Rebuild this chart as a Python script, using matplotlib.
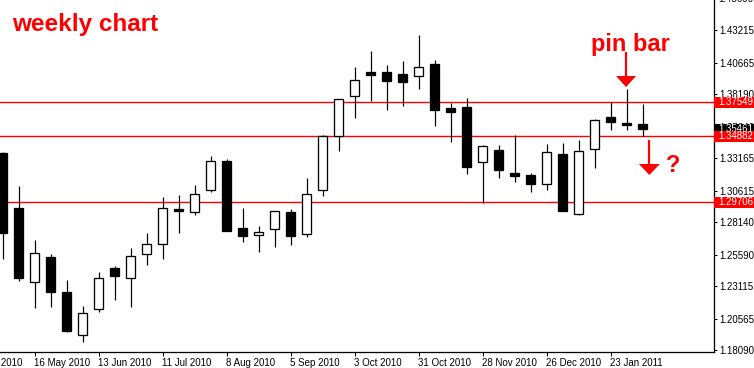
import matplotlib
matplotlib.use("Agg")
import matplotlib.pyplot as plt
from matplotlib.patches import Rectangle, Polygon
import matplotlib.transforms as mtransforms

plt.rcParams['font.family'] = ['Liberation Sans', 'DejaVu Sans']

# weekly EURUSD-style candles, one per week starting 2 May 2010
opens = [1.3360, 1.2924, 1.2343, 1.2542, 1.2265, 1.1927, 1.2131, 1.2453, 1.2375, 1.2563,
         1.2641, 1.2916, 1.2892, 1.3065, 1.3295, 1.2769, 1.2712, 1.2764, 1.2895, 1.2720,
         1.3065, 1.3488, 1.3802, 1.3990, 1.3990, 1.3974, 1.3959, 1.4055, 1.3708, 1.3716,
         1.3284, 1.3378, 1.3198, 1.3182, 1.3112, 1.3347, 1.2876, 1.3385, 1.3640, 1.3593,
         1.3585]
highs = [1.3365, 1.3098, 1.2675, 1.2563, 1.2361, 1.2157, 1.2422, 1.2471, 1.2612, 1.2730,
         1.3012, 1.3025, 1.3106, 1.3334, 1.3310, 1.2926, 1.2785, 1.2902, 1.2918, 1.3161,
         1.3498, 1.3781, 1.4032, 1.4157, 1.4047, 1.4079, 1.4283, 1.4087, 1.3747, 1.3789,
         1.3420, 1.3420, 1.3496, 1.3198, 1.3428, 1.3436, 1.3457, 1.3624, 1.3755, 1.3859,
         1.3742]
lows = [1.2524, 1.2356, 1.2144, 1.2152, 1.1956, 1.1877, 1.2113, 1.2204, 1.2152, 1.2481,
        1.2524, 1.2732, 1.2873, 1.3051, 1.2745, 1.2662, 1.2583, 1.2622, 1.2638, 1.2701,
        1.3022, 1.3375, 1.3634, 1.3767, 1.3697, 1.3728, 1.3862, 1.3571, 1.3446, 1.3195,
        1.2967, 1.3164, 1.3132, 1.3054, 1.3069, 1.2902, 1.2874, 1.3242, 1.3540, 1.3540,
        1.3491]
closes = [1.2732, 1.2379, 1.2571, 1.2269, 1.1964, 1.2100, 1.2375, 1.2390, 1.2547, 1.2641,
          1.2924, 1.2905, 1.3033, 1.3292, 1.2748, 1.2709, 1.2735, 1.2900, 1.2709, 1.3033,
          1.3488, 1.3778, 1.3927, 1.3971, 1.3924, 1.3916, 1.4029, 1.3692, 1.3681, 1.3244,
          1.3410, 1.3226, 1.3179, 1.3116, 1.3363, 1.2905, 1.3371, 1.3614, 1.3603, 1.3579,
          1.35461]

levels = [1.37549, 1.34882, 1.29706]
last_price = 1.35461

price_ticks = [1.18090, 1.20565, 1.23115, 1.25590, 1.28140, 1.30615, 1.33165,
               1.35640, 1.38190, 1.40665, 1.43215]
top_tick = 1.45690

week_ticks = [2, 6, 10, 14, 18, 22, 26, 30, 34, 38]
week_labels = ["16 May 2010", "13 Jun 2010", "11 Jul 2010", "8 Aug 2010", "5 Sep 2010",
               "3 Oct 2010", "31 Oct 2010", "28 Nov 2010", "26 Dec 2010", "23 Jan 2011"]
first_label = "18 Apr 2010"

pin_bar = 39

W, H = 754, 368
fig = plt.figure(figsize=(W / 100, H / 100), dpi=100)
fig.patch.set_facecolor('white')
ax = fig.add_axes([0, 16 / H, 714 / W, 352 / H])

px = 0.72  # one pixel in points
n = len(opens)
idx = list(range(n))

# resistance / support lines behind the candles
for lv in levels:
    ax.axhline(lv, color='#ff0000', lw=1.0, zorder=1)

ax.vlines(idx, lows, highs, color='black', lw=px * 1.2, zorder=2)
for i in idx:
    o, c = opens[i], closes[i]
    bottom = min(o, c)
    h = max(abs(c - o), 0.0012)
    if c - o > 0.0005:
        fc = 'white'
    else:
        fc = 'black'
    ax.bar(i, h, bottom=bottom, width=0.6, color=fc, edgecolor='black',
           linewidth=px * 1.3, zorder=3)

ax.set_xlim(-2.5 / 16, (714 - 2.5) / 16)
ax.set_ylim(1.1809 + (350.4 - 352) / 1275, 1.1809 + 350.4 / 1275)

# axes frame like the trading terminal
for s in ['top', 'left']:
    ax.spines[s].set_visible(False)
for s in ['bottom', 'right']:
    ax.spines[s].set_linewidth(px * 1.3)
    ax.spines[s].set_zorder(5)

ax.yaxis.tick_right()
ax.set_yticks(price_ticks)
ax.set_yticklabels(["%.5f" % t for t in price_ticks])
ax.tick_params(axis='y', direction='out', length=2.5, width=px, pad=1.5, labelsize=7)

ax.set_xticks(week_ticks)
ax.set_xticklabels(week_labels)
ax.tick_params(axis='x', direction='out', length=3, width=px, pad=1.5, labelsize=7)
for lab in ax.get_xticklabels():
    lab.set_horizontalalignment('left')

xt = mtransforms.blended_transform_factory(ax.transData, ax.transAxes)
ax.text(-2, -11.5 / 352, first_label, transform=xt, fontsize=7, ha='left', va='center',
        clip_on=False)

yt = mtransforms.blended_transform_factory(ax.transAxes, ax.transData)
ax.text(1 + 4 / 714, top_tick, "%.5f" % top_tick, transform=yt, fontsize=7,
        ha='left', va='center', clip_on=False)

# price boxes on the axis
box_h = 10.5 / 1275
boxes = [(last_price, 'black')] + [(lv, '#ff0000') for lv in levels]
for k, (p, col) in enumerate(boxes):
    ax.add_patch(Rectangle((1.0, p - box_h / 2), 40 / 714, box_h, transform=yt,
                           facecolor=col, edgecolor='none', clip_on=False, zorder=10 + k))
    ax.text(1 + 4 / 714, p, "%.5f" % p, transform=yt, fontsize=7, color='white',
            ha='left', va='center', clip_on=False, zorder=10 + k)

# annotations
fig.text(12 / W, 1 - 30.7 / H, "weekly chart", color='#ff0000', fontsize=17.5,
         fontweight='bold', ha='left', va='baseline')
fig.text(591 / W, 1 - 50.7 / H, "pin bar", color='#ff0000', fontsize=17,
         fontweight='bold', ha='left', va='baseline')
fig.text(666 / W, 1 - 171.7 / H, "?", color='#ff0000', fontsize=17,
         fontweight='bold', ha='left', va='baseline')


def down_arrow(x, top, head_top, tip, half_w):
    ax.plot([x, x], [top, head_top], color='#ff0000', lw=px * 2.2, zorder=6,
            clip_on=False, solid_capstyle='butt')
    ax.add_patch(Polygon([[x - half_w, head_top], [x + half_w, head_top], [x, tip]],
                         closed=True, facecolor='#ff0000', edgecolor='none', zorder=6))


down_arrow(pin_bar - 0.03, 1.4149, 1.3961, 1.3875, 0.625)
down_arrow(pin_bar + 1.43, 1.3459, 1.3271, 1.3185, 0.656)

fig.savefig("out.png", dpi=100, facecolor='white')
